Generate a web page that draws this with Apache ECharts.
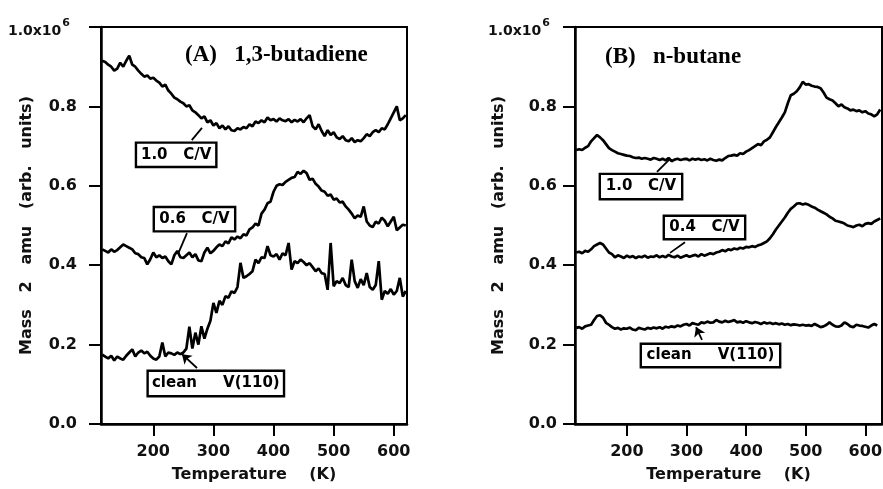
<!DOCTYPE html>
<html><head><meta charset="utf-8">
<script src="https://cdn.jsdelivr.net/npm/echarts@6/dist/echarts.min.js"></script>
<style>html,body{margin:0;padding:0;background:#fff}#c{width:883px;height:489px}</style>
</head><body><div id="c"></div>
<script>
// Temperatures (K)
const tempA = [115,120,125,130,135,140,145,150,155,160,165,170,175,180,185,190,195,200,205,210,
215,220,225,230,235,240,245,250,255,260,265,270,275,280,285,290,295,300,305,310,
315,320,325,330,335,340,345,350,355,360,365,370,375,380,385,390,395,400,405,410,
415,420,425,430,435,440,445,450,455,460,465,470,475,480,485,490,495,500,505,510,
515,520,525,530,535,540,545,550,555,560,565,570,575,580,585,590,595,600,605,610,
615,620];
const tempB = [115,120,125,130,135,140,145,150,155,160,165,170,175,180,185,190,195,200,205,210,
215,220,225,230,235,240,245,250,255,260,265,270,275,280,285,290,295,300,305,310,
315,320,325,330,335,340,345,350,355,360,365,370,375,380,385,390,395,400,405,410,
415,420,425,430,435,440,445,450,455,460,465,470,475,480,485,490,495,500,505,510,
515,520,525,530,535,540,545,550,555,560,565,570,575,580,585,590,595,600,605,610,
615,620,625];

// (A) 1,3-butadiene, Mass 2 signal (x1e6)
const a10 = [.915,.912,.905,.900,.890,.895,.910,.900,.915,.928,
.905,.900,.890,.882,.875,.878,.870,.872,.865,.860,
.850,.855,.840,.832,.822,.818,.812,.808,.800,.803,
.790,.785,.778,.770,.775,.760,.765,.752,.758,.745,
.752,.742,.750,.740,.738,.745,.742,.748,.745,.755,
.750,.762,.758,.765,.760,.772,.765,.768,.762,.770,
.765,.763,.768,.760,.766,.762,.768,.760,.770,.778,
.750,.742,.755,.738,.725,.740,.728,.735,.722,.718,
.725,.715,.712,.720,.710,.715,.712,.720,.730,.725,
.735,.740,.735,.745,.742,.755,.770,.785,.800,.765,
.770,.778];
const a06 = [.440,.436,.432,.440,.434,.438,.445,.452,.448,.444,
.440,.430,.428,.420,.418,.402,.415,.432,.420,.425,
.418,.422,.410,.402,.425,.436,.420,.418,.425,.432,
.420,.428,.412,.410,.432,.444,.430,.436,.445,.452,
.448,.460,.455,.470,.465,.472,.468,.478,.475,.490,
.495,.505,.500,.530,.540,.556,.560,.585,.600,.604,
.602,.610,.615,.620,.622,.635,.630,.638,.632,.615,
.618,.605,.598,.588,.585,.575,.578,.565,.568,.558,
.560,.548,.540,.530,.518,.525,.522,.548,.510,.500,
.496,.510,.505,.520,.512,.498,.510,.522,.488,.495,
.502,.500];
const aClean = [.175,.170,.165,.172,.160,.170,.165,.162,.172,.180,
.188,.170,.180,.185,.178,.182,.172,.165,.162,.170,
.205,.170,.180,.178,.174,.180,.176,.180,.190,.245,
.190,.230,.200,.246,.215,.240,.260,.305,.280,.310,
.300,.322,.318,.334,.330,.345,.406,.368,.372,.378,
.385,.414,.405,.420,.418,.448,.425,.422,.428,.414,
.430,.425,.456,.389,.410,.405,.414,.408,.400,.405,
.395,.385,.392,.380,.378,.338,.456,.347,.360,.355,
.368,.350,.345,.414,.360,.343,.365,.350,.380,.345,
.338,.350,.410,.313,.335,.328,.340,.326,.335,.368,
.321,.335];

// (B) n-butane
const b10 = [.690,.692,.690,.696,.700,.712,.720,.728,.722,.715,
.705,.695,.690,.686,.682,.680,.678,.676,.675,.672,
.670,.671,.668,.670,.668,.666,.670,.668,.665,.668,
.664,.670,.662,.666,.668,.665,.667,.668,.664,.668,
.666,.668,.665,.667,.664,.668,.665,.663,.666,.664,
.670,.675,.676,.678,.676,.682,.680,.686,.690,.695,
.700,.705,.702,.712,.716,.722,.735,.748,.760,.772,
.785,.808,.828,.832,.838,.848,.862,.855,.856,.852,
.850,.849,.846,.835,.822,.818,.815,.808,.800,.805,
.798,.795,.790,.792,.788,.790,.785,.788,.782,.780,
.775,.780,.792];
const b04 = [.432,.434,.430,.436,.434,.440,.448,.452,.456,.452,
.442,.432,.428,.420,.425,.422,.418,.424,.420,.423,
.418,.422,.420,.424,.419,.422,.421,.425,.420,.423,
.420,.426,.422,.420,.424,.419,.422,.425,.421,.424,
.426,.422,.428,.424,.427,.430,.428,.432,.434,.438,
.435,.440,.438,.442,.440,.444,.442,.446,.445,.448,
.446,.450,.452,.456,.460,.468,.478,.490,.500,.510,
.520,.532,.542,.548,.555,.556,.553,.555,.552,.548,
.545,.540,.536,.532,.528,.522,.518,.512,.510,.508,
.505,.500,.498,.496,.500,.502,.498,.504,.506,.504,
.510,.514,.518];
const bClean = [.242,.244,.240,.246,.248,.250,.262,.272,.274,.268,
.255,.250,.244,.240,.242,.238,.241,.240,.243,.238,
.236,.242,.240,.238,.242,.240,.243,.241,.244,.240,
.245,.243,.246,.244,.248,.246,.250,.252,.248,.254,
.252,.250,.256,.254,.258,.255,.256,.262,.258,.256,
.260,.257,.259,.262,.256,.258,.255,.259,.256,.254,
.257,.255,.252,.256,.253,.255,.252,.254,.251,.253,
.250,.252,.249,.251,.250,.248,.250,.248,.249,.247,
.252,.248,.244,.246,.250,.256,.250,.246,.245,.248,
.256,.252,.246,.244,.250,.248,.247,.245,.243,.248,
.252,.248];

const xTicks = [200, 300, 400, 500, 600];
const yTicks = [0, 0.2, 0.4, 0.6, 0.8, 1.0];
const panelTitles = ['(A)   1,3-butadiene', '(B)   n-butane'];
const xName = 'Temperature    (K)';
const yName = 'Mass   2   amu   (arb.   units)';

const FONT = 'DejaVu Sans';
const pairs = (t, v) => v.map((y, i) => [t[i], y]);

function xAxis(idx, max) {
  return {
    gridIndex: idx, type: 'value', min: 113, max: max,
    name: xName, nameLocation: 'middle', nameGap: 43, nameMoveOverlap: false,
    nameTextStyle: { fontFamily: FONT, fontWeight: 'bold', fontSize: 16, color: '#111' },
    axisLine: { show: true, onZero: false, lineStyle: { color: '#000', width: 2.5 } },
    axisTick: { show: true, length: 12, lineStyle: { color: '#000', width: 2 }, customValues: xTicks },
    axisLabel: { margin: 20, fontFamily: FONT, fontWeight: 'bold', fontSize: 16, color: '#111', customValues: xTicks },
    splitLine: { show: false }
  };
}
function yAxis(idx, margin, gap) {
  return {
    gridIndex: idx, type: 'value', min: 0, max: 1.0,
    name: yName, nameLocation: 'middle', nameGap: gap, nameRotate: 90, nameMoveOverlap: false,
    nameTextStyle: { fontFamily: FONT, fontWeight: 'bold', fontSize: 16, color: '#111' },
    axisLine: { show: true, onZero: false, lineStyle: { color: '#000', width: 2.5 } },
    axisTick: { show: true, length: 12, lineStyle: { color: '#000', width: 2 }, customValues: yTicks },
    axisLabel: {
      margin: margin, fontFamily: FONT, fontWeight: 'bold', fontSize: 16, color: '#111',
      customValues: yTicks,
      formatter: v => v > 0.99 ? '{t|1.0x10}{s|6}' : v.toFixed(1),
      rich: {
        t: { fontFamily: FONT, fontWeight: 'bold', fontSize: 14, color: '#111', padding: [8, 0, 0, 0] },
        s: { fontFamily: FONT, fontWeight: 'bold', fontSize: 11, color: '#111', padding: [0, 7, 8, 1] }
      }
    },
    splitLine: { show: false }
  };
}

function mkSeries(idx, t, v, box, lead, arrow) {
  return {
    type: 'line', xAxisIndex: idx, yAxisIndex: idx, data: pairs(t, v),
    showSymbol: false, symbol: 'none', smooth: false,
    lineStyle: { color: '#000', width: 2.7 },
    markPoint: {
      silent: true, animation: false,
      data: [{ coord: box.c, symbol: 'circle', symbolSize: 1,
        itemStyle: { color: 'rgba(0,0,0,0)' },
        label: {
          show: true, position: 'inside', formatter: box.t,
          fontFamily: FONT, fontWeight: 'bold', fontSize: 15, color: '#000',
          backgroundColor: '#fff', borderColor: '#000', borderWidth: 2.4,
          width: box.s[0] - 4, height: box.s[1] - 4, lineHeight: box.s[1] - 4,
          align: 'center', verticalAlign: 'middle', padding: 0
        } }]
    },
    markLine: {
      silent: true, animation: false,
      symbol: arrow ? ['none', 'arrow'] : ['none', 'none'], symbolSize: 9,
      lineStyle: { color: '#000', width: 1.8, type: 'solid' },
      label: { show: false },
      data: [[{ coord: lead[0] }, { coord: lead[1] }]]
    }
  };
}

const chart = echarts.init(document.getElementById('c'), null, { renderer: 'canvas' });
chart.setOption({
  animation: false,
  backgroundColor: '#fff',
  title: [
    { text: panelTitles[0], left: 185, top: 44, textStyle: { fontFamily: 'Liberation Serif', fontWeight: 'bold', fontSize: 23, color: '#000' }, padding: 0 },
    { text: panelTitles[1], left: 605, top: 46, textStyle: { fontFamily: 'Liberation Serif', fontWeight: 'bold', fontSize: 23, color: '#000' }, padding: 0 }
  ],
  grid: [
    { left: 101, top: 27, width: 306, height: 397, show: true, borderColor: '#000', borderWidth: 2, backgroundColor: 'transparent', containLabel: false, outerBoundsMode: 'none' },
    { left: 575, top: 27, width: 307, height: 397, show: true, borderColor: '#000', borderWidth: 2, backgroundColor: 'transparent', containLabel: false, outerBoundsMode: 'none' }
  ],
  xAxis: [xAxis(0, 622), xAxis(1, 628)],
  yAxis: [yAxis(0, 24, 66), yAxis(1, 18, 68)],
  series: [
    mkSeries(0, tempA, a10, { c: [238, 0.678], s: [82, 26], t: '1.0   C/V' }, [[264, 0.715], [281, 0.746]], false),
    mkSeries(0, tempA, a06, { c: [268.5, 0.516], s: [83, 26], t: '0.6   C/V' }, [[256, 0.481], [241, 0.428]], false),
    mkSeries(0, tempA, aClean, { c: [304, 0.102], s: [138, 27], t: 'clean     V(110)' }, [[272.7, 0.141], [247.7, 0.176]], true),
    mkSeries(1, tempB, b10, { c: [223.7, 0.598], s: [84, 27], t: '1.0   C/V' }, [[250.5, 0.635], [272.4, 0.668]], false),
    mkSeries(1, tempB, b04, { c: [330.2, 0.495], s: [83, 25], t: '0.4   C/V' }, [[297.5, 0.458], [272.4, 0.431]], false),
    mkSeries(1, tempA, bClean, { c: [340.3, 0.1725], s: [141, 25], t: 'clean     V(110)' }, [[326, 0.2116], [316, 0.2443]], true)
  ]
});
</script>
</body></html>
